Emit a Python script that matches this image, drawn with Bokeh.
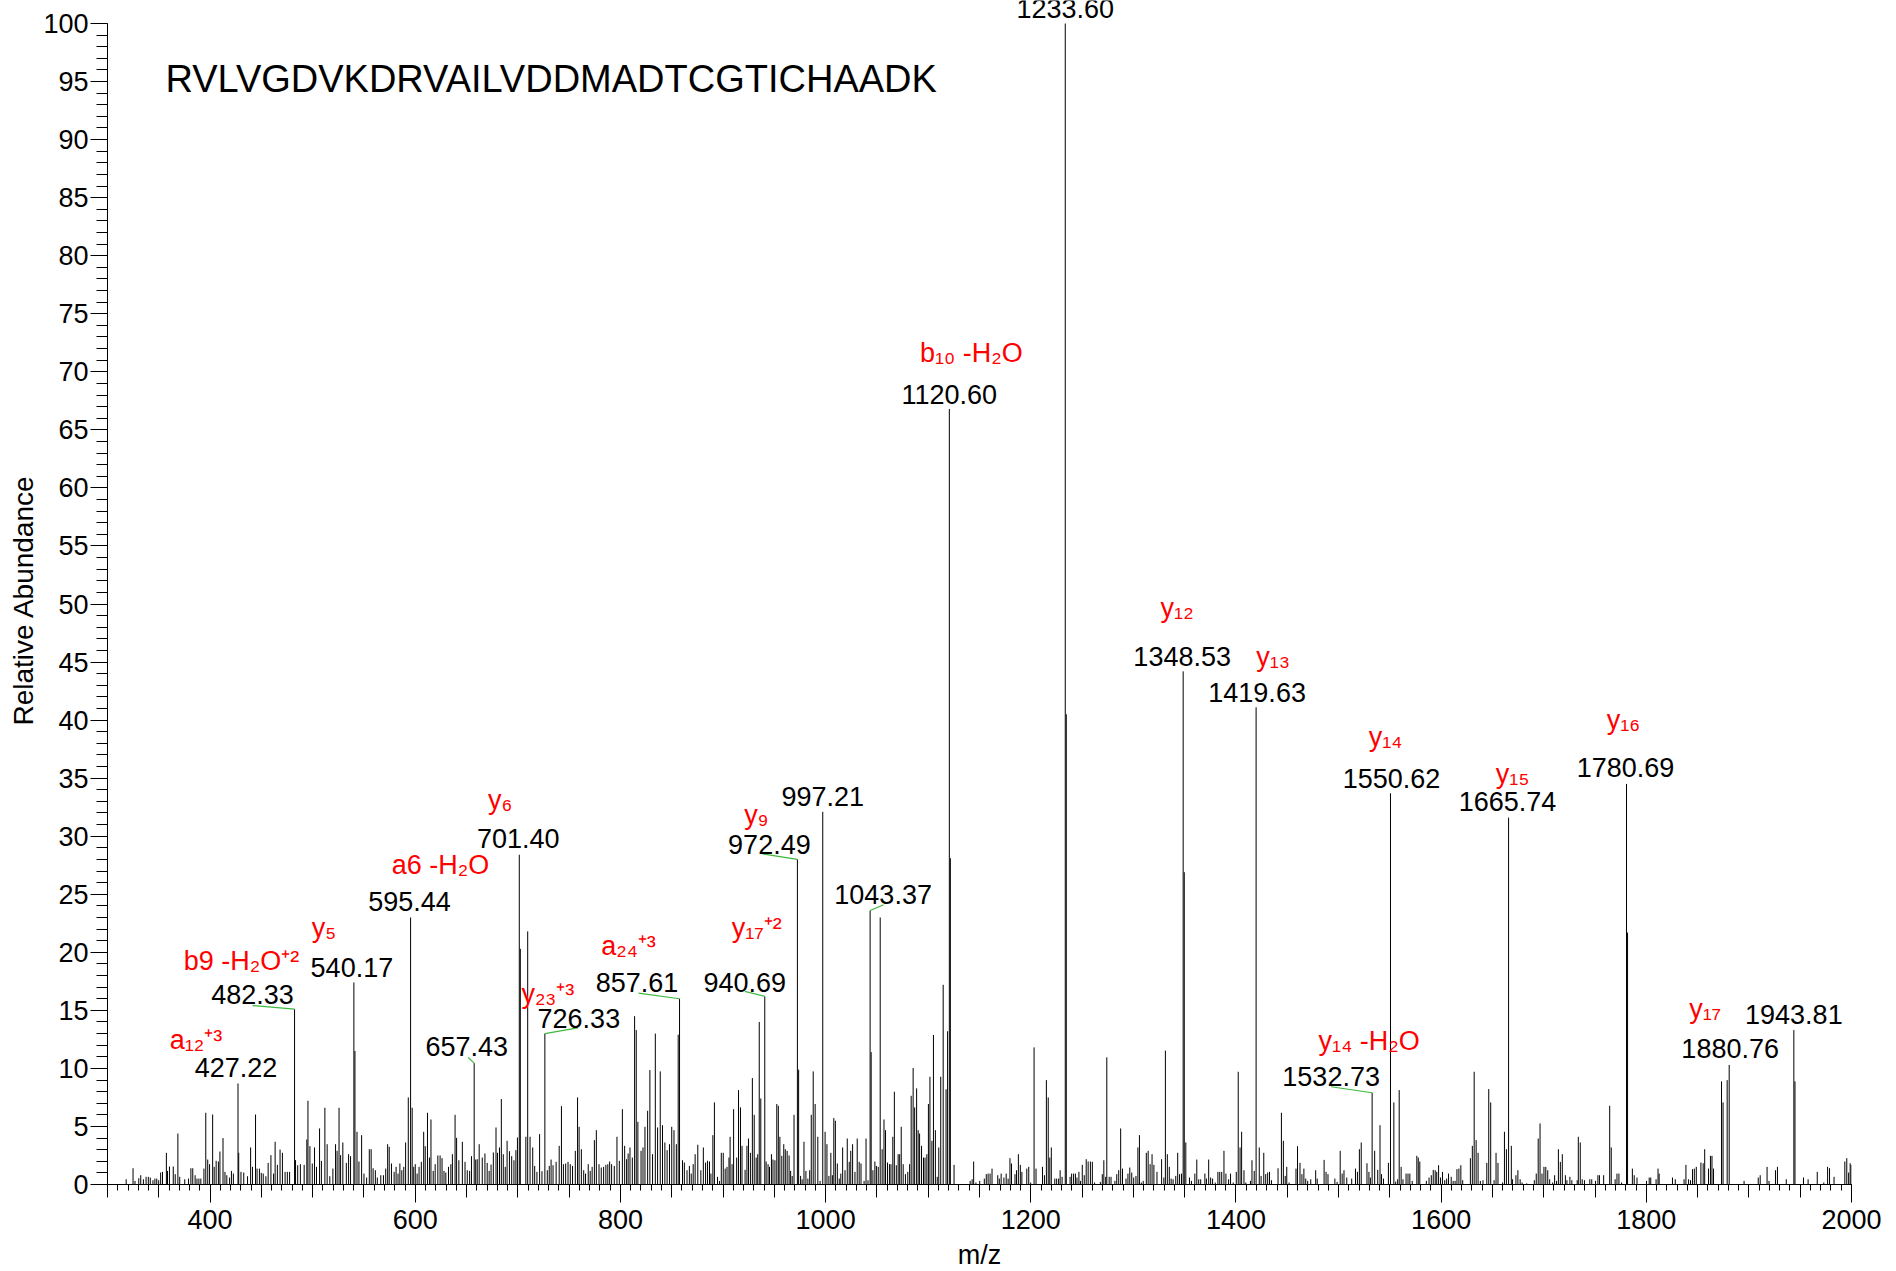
from bokeh.plotting import figure
from bokeh.models import (ColumnDataSource, LinearAxis, FixedTicker,
                          SingleIntervalTicker, Range1d, Label, Title)
from bokeh.core.properties import value
from bokeh.embed import file_html
from bokeh.resources import INLINE

# ---------------- data ----------------
sequence = "RVLVGDVKDRVAILVDDMADTCGTICHAADK"

mz_a = [318.2, 324.9, 326.8, 330.5, 332.4, 335.0, 337.6, 339.8, 341.7, 344.3,
        346.2, 348.0, 349.9, 351.8, 353.6, 357.4, 358.5, 360.4, 364.1, 366.0,
        368.6, 370.4, 375.3, 379.0, 381.3, 383.1, 385.4, 387.2, 389.1, 391.0,
        394.0, 395.8, 397.7, 399.5, 402.5, 404.0, 405.9, 408.1, 409.6, 412.6,
        414.5, 416.3, 419.0, 420.8, 422.7, 427.9, 430.1, 432.8, 436.5, 439.5,
        441.3, 444.3, 445.8, 448.1, 449.9, 451.8, 454.4, 456.6, 459.3, 461.9,
        463.4, 465.6, 468.2, 470.5, 473.1, 475.3, 477.5, 483.3, 485.4, 488.0,
        491.7, 494.3, 495.4, 497.3, 499.6, 501.8, 503.7, 506.7, 508.5, 511.9,
        514.1, 516.7, 519.7, 522.3, 523.8, 525.7, 527.2, 529.4, 532.8, 535.0,
        536.9, 541.2, 543.2, 545.1, 547.7, 550.0, 552.6, 555.2, 557.0, 558.9,
        561.1, 563.0, 566.4, 569.0, 571.2, 573.1, 574.6, 576.8, 579.4, 581.3,
        583.2, 585.0, 586.9, 588.8, 590.6, 593.2, 597.0, 598.5]
int_a = [0.45, 1.4, 0.31, 0.54, 0.8, 0.45, 0.66, 0.66, 0.6, 0.37,
         0.51, 0.51, 0.37, 1.03, 1.09, 2.73, 1.17, 1.55, 1.55, 0.89,
         4.39, 0.66, 0.45, 0.51, 1.4, 1.4, 0.8, 0.51, 0.51, 0.51,
         1.37, 6.18, 2.15, 1.75, 6.03, 1.52, 2.04, 1.98, 2.84, 4.0,
         1.09, 0.8, 0.6, 1.17, 0.94, 2.73, 1.09, 1.03, 0.71, 3.19,
         1.52, 6.03, 1.37, 1.37, 1.0, 0.94, 0.71, 1.86, 2.53, 0.94,
         3.68, 1.69, 3.01, 2.73, 1.09, 1.09, 1.09, 2.1, 1.66, 1.75,
         1.69, 3.88, 7.21, 3.3, 1.81, 3.19, 1.52, 4.83, 2.04, 6.61,
         3.47, 0.71, 1.37, 3.47, 2.9, 6.61, 2.53, 3.62, 1.86, 2.61,
         2.44, 11.5, 4.54, 1.98, 4.25, 0.94, 0.6, 3.04, 3.04, 1.4,
         1.23, 0.6, 0.8, 0.8, 1.37, 3.47, 3.24, 1.81, 1.09, 1.52,
         0.94, 1.81, 1.23, 1.52, 3.62, 7.5, 6.61, 1.52]

mz_b = [600.0, 601.8, 603.7, 605.9, 608.2, 609.7, 611.9, 613.8, 615.3, 617.5,
        619.4, 622.0, 624.2, 626.1, 628.0, 629.8, 632.4, 634.7, 636.2, 638.8,
        640.3, 642.5, 645.9, 648.5, 650.7, 653.0, 654.8, 658.9, 660.4, 662.3,
        665.3, 667.9, 670.1, 672.0, 673.9, 676.1, 678.7, 680.2, 682.1, 683.9,
        685.8, 687.7, 689.5, 691.8, 694.0, 696.2, 698.1, 699.6, 702.4, 707.8,
        709.6, 711.9, 714.5, 716.4, 718.6, 721.2, 723.5, 728.7, 730.6, 732.4,
        734.3, 737.3, 740.3, 742.5, 744.4, 746.6, 748.9, 751.1, 753.3, 756.0,
        758.2, 759.7, 761.9, 764.2, 766.0, 768.6, 770.5, 772.4, 774.6, 776.5,
        779.1, 781.3, 783.6, 785.8, 787.7, 789.5, 791.4, 794.0, 796.6, 798.9,
        801.9, 804.1, 806.0, 807.5, 809.3, 811.6, 813.8, 815.4, 817.0, 820.1,
        822.0, 823.9, 826.5, 828.7, 831.3, 834.0, 836.2, 838.8, 841.0, 843.3,
        845.5, 847.8, 850.0, 852.2, 854.5, 856.3, 860.5, 862.3, 864.9, 867.2,
        869.0, 870.9, 872.8, 875.4, 878.4, 880.8]
int_b = [1.75, 0.94, 1.52, 1.95, 4.54, 3.3, 6.18, 2.32, 5.6, 1.17,
         1.75, 2.5, 2.5, 2.27, 1.17, 1.03, 1.52, 1.75, 2.61, 6.0,
         4.02, 2.09, 3.68, 1.95, 1.23, 1.17, 2.44, 2.15, 2.18, 3.47,
         2.32, 2.67, 1.86, 1.17, 1.72, 2.76, 4.91, 2.73, 3.19, 7.36,
         2.61, 1.52, 3.76, 2.87, 2.44, 2.09, 2.96, 4.05, 20.3, 4.11,
         21.8, 4.11, 3.19, 1.6, 1.09, 4.34, 1.14, 1.23, 1.6, 2.15,
         1.66, 1.95, 3.33, 6.75, 1.75, 1.81, 1.95, 1.75, 1.6, 2.9,
         7.5, 4.97, 3.04, 1.23, 0.94, 1.75, 1.17, 1.52, 3.82, 4.68,
         1.75, 1.46, 1.52, 1.69, 1.75, 1.98, 1.75, 1.6, 4.11, 2.04,
         6.49, 3.33, 2.18, 2.67, 3.19, 2.32, 14.5, 13.3, 5.4, 2.9,
         3.19, 4.97, 6.35, 9.86, 2.61, 13.0, 4.91, 9.74, 5.11, 3.62,
         2.96, 3.47, 4.97, 4.68, 3.47, 12.9, 2.09, 1.89, 1.23, 1.6,
         0.94, 1.75, 2.61, 3.42, 1.23, 3.19]

mz_c = [883.0, 884.9, 886.8, 888.2, 890.1, 891.6, 894.6, 896.5, 898.3, 900.2,
        902.1, 903.9, 905.8, 906.9, 908.8, 910.3, 913.3, 915.1, 917.0, 918.5,
        921.5, 923.3, 924.8, 926.7, 928.6, 930.4, 932.3, 933.8, 935.3, 936.8,
        942.0, 943.9, 945.3, 947.2, 948.7, 950.6, 952.4, 953.9, 955.4, 957.3,
        959.2, 960.7, 962.5, 964.4, 965.9, 967.4, 969.2, 973.7, 975.6, 977.1,
        978.9, 980.8, 982.7, 984.5, 986.0, 987.9, 989.8, 992.4, 994.6, 999.5,
        1001.3, 1003.2, 1005.1, 1006.6, 1008.0, 1009.5, 1011.4, 1013.3, 1014.8, 1016.6,
        1018.9, 1021.1, 1023.0, 1024.5, 1026.3, 1028.6, 1030.8, 1032.7, 1034.5, 1037.5,
        1039.4, 1041.3, 1044.4, 1046.1, 1048.0, 1049.5, 1051.3, 1053.2, 1055.1, 1056.9,
        1058.4, 1060.3, 1062.2, 1063.7, 1065.5, 1067.0, 1068.9, 1070.7, 1072.2, 1073.7,
        1075.6, 1077.8, 1080.1, 1081.9, 1083.4, 1085.3, 1086.8, 1088.7, 1090.2, 1091.6,
        1093.5, 1095.4, 1096.9, 1098.7, 1100.2, 1101.7, 1103.6, 1105.1, 1107.0, 1108.8,
        1110.3, 1112.2, 1114.6, 1117.4, 1118.9, 1121.6, 1125.2]
int_c = [1.89, 2.04, 1.98, 0.94, 4.25, 7.07, 0.66, 0.31, 2.73, 2.73,
         1.37, 1.52, 2.32, 4.11, 1.75, 6.49, 2.32, 8.13, 6.64, 3.33,
         1.26, 3.33, 3.96, 2.73, 9.17, 6.0, 2.32, 2.61, 14.0, 7.41,
         1.98, 1.75, 1.52, 2.61, 2.15, 2.09, 6.93, 6.78, 4.11, 2.47,
         3.47, 3.04, 2.9, 2.5, 1.17, 0.74, 6.0, 9.89, 0.74, 0.45,
         3.68, 1.17, 0.51, 1.23, 6.0, 9.74, 6.93, 4.11, 0.31, 4.54,
         3.47, 0.74, 2.73, 0.8, 5.72, 5.49, 1.81, 0.51, 0.94, 3.19,
         1.23, 3.96, 1.95, 2.9, 3.47, 1.09, 3.96, 1.95, 1.81, 0.31,
         3.96, 0.37, 11.4, 1.23, 1.98, 1.6, 1.52, 23.0, 3.04, 5.6,
         4.68, 1.89, 1.75, 1.75, 4.11, 7.99, 1.66, 2.61, 2.61, 4.97,
         1.75, 0.89, 1.09, 1.75, 7.64, 10.03, 6.64, 8.28, 4.68, 4.39,
         3.33, 2.32, 2.32, 2.61, 6.93, 9.28, 3.76, 12.88, 4.68, 0.66,
         3.19, 9.28, 17.2, 8.2, 13.2, 28.1, 1.69]

mz_d = [1140.9, 1142.8, 1144.3, 1146.5, 1150.2, 1154.7, 1156.6, 1158.4, 1160.3, 1162.2,
        1167.8, 1169.3, 1171.1, 1173.8, 1176.0, 1177.9, 1179.7, 1181.2, 1184.6, 1186.1,
        1187.9, 1189.8, 1191.3, 1196.1, 1198.0, 1199.9, 1203.2, 1205.1, 1211.4, 1213.3,
        1215.2, 1217.0, 1218.5, 1220.0, 1223.4, 1225.2, 1227.1, 1228.6, 1230.5, 1234.6,
        1238.3, 1239.8, 1241.7, 1243.5, 1245.0, 1246.9, 1248.4, 1250.2, 1252.1, 1254.0,
        1255.9, 1258.1, 1260.0, 1262.2, 1267.8, 1269.7, 1271.2, 1273.0, 1274.1, 1276.4,
        1278.2, 1282.0, 1283.8, 1285.7, 1287.6, 1289.4, 1292.8, 1294.7, 1296.5, 1298.4,
        1300.3, 1302.5, 1304.4, 1305.9, 1307.7, 1309.6, 1312.6, 1314.4, 1316.3, 1318.2,
        1320.0, 1323.0, 1327.5, 1329.7, 1331.2, 1333.1, 1335.0, 1336.8, 1338.7, 1341.3,
        1343.2, 1345.0, 1346.9, 1349.6, 1351.1, 1354.7, 1356.6, 1359.9, 1361.8, 1363.7,
        1365.6, 1369.7, 1371.2, 1373.4, 1375.3, 1377.2, 1379.8, 1382.4, 1384.2, 1386.1,
        1388.3, 1390.2, 1392.8, 1394.7, 1397.3, 1400.3, 1402.2, 1404.0, 1405.5, 1407.8,
        1409.6, 1414.1, 1415.6, 1417.8, 1422.7, 1424.5, 1427.1, 1429.0, 1430.9, 1432.7,
        1434.6, 1441.0, 1444.3, 1446.2, 1448.0, 1449.5, 1451.8, 1458.5, 1460.0]
int_d = [0.31, 0.45, 1.98, 0.17, 0.31, 0.51, 0.89, 0.94, 0.94, 1.37,
         0.8, 0.51, 0.94, 0.6, 0.94, 0.51, 2.27, 1.81, 0.89, 1.23,
         2.61, 1.69, 1.09, 1.37, 1.52, 0.17, 11.81, 1.37, 1.52, 0.8,
         8.99, 7.5, 2.32, 3.19, 0.51, 0.51, 0.51, 1.23, 0.66, 40.5,
         0.66, 0.94, 0.94, 0.94, 0.6, 1.09, 0.31, 1.69, 0.8, 2.18,
         1.98, 1.98, 1.95, 0.17, 0.22, 0.89, 2.09, 0.66, 10.95, 0.66,
         0.66, 0.31, 0.89, 1.23, 4.83, 1.37, 0.51, 0.94, 1.46, 1.03,
         0.6, 0.74, 3.19, 4.25, 0.17, 0.31, 2.73, 2.9, 1.75, 2.61,
         1.69, 1.09, 2.18, 0.6, 11.53, 2.61, 1.52, 0.51, 0.45, 0.74,
         2.73, 0.89, 0.94, 26.9, 3.62, 0.6, 0.31, 0.94, 2.15, 0.45,
         0.45, 0.94, 0.51, 2.15, 0.6, 0.51, 0.17, 1.09, 1.09, 1.09,
         2.9, 0.94, 0.45, 0.94, 0.17, 1.09, 9.71, 3.19, 4.54, 1.23,
         0.17, 0.31, 2.09, 1.17, 3.19, 0.74, 2.73, 0.89, 1.03, 1.09,
         0.37, 1.4, 6.18, 3.76, 0.74, 1.52, 0.17, 1.37, 3.3]

mz_e = [1462.4, 1464.3, 1466.2, 1468.0, 1469.9, 1472.9, 1477.7, 1479.2, 1485.9, 1487.8,
        1489.7, 1496.4, 1498.6, 1501.6, 1503.5, 1505.3, 1508.0, 1512.8, 1516.5, 1518.4,
        1520.3, 1522.1, 1527.7, 1529.6, 1531.0, 1535.2, 1538.2, 1540.4, 1541.9, 1543.8,
        1548.6, 1553.9, 1555.7, 1557.6, 1559.1, 1561.0, 1562.8, 1565.8, 1567.7, 1569.5,
        1571.8, 1576.3, 1577.7, 1579.2, 1585.6, 1588.2, 1590.4, 1592.3, 1594.2, 1595.7,
        1597.5, 1599.4, 1601.3, 1603.5, 1605.4, 1607.2, 1609.8, 1611.7, 1613.6, 1615.4,
        1617.3, 1619.2, 1621.0, 1628.5, 1630.4, 1632.2, 1634.1, 1636.0, 1638.2, 1640.8,
        1644.5, 1646.4, 1648.3, 1651.6, 1653.5, 1655.4, 1659.9, 1661.7, 1663.6, 1668.4,
        1669.6, 1672.9, 1674.8, 1677.0, 1678.9, 1683.4, 1690.8, 1692.7, 1694.6, 1696.4,
        1698.3, 1700.2, 1702.0, 1703.9, 1705.8, 1708.7, 1710.6, 1712.5, 1714.3, 1716.2,
        1718.1, 1721.1, 1722.6, 1725.5, 1727.4, 1732.6, 1733.7, 1735.6, 1737.5, 1739.7,
        1744.9, 1746.8, 1750.5, 1752.8, 1754.3, 1758.4, 1764.3, 1765.8, 1769.6, 1771.4,
        1773.3, 1775.9, 1781.7, 1786.4, 1788.2, 1790.9, 1800.2, 1802.8, 1804.3, 1809.5,
        1811.4, 1812.5, 1825.5, 1828.2, 1836.8, 1838.6, 1841.2, 1843.1, 1845.0, 1846.8,
        1848.7, 1853.2, 1855.4, 1856.9, 1860.6, 1862.5, 1864.0, 1865.5, 1873.3, 1874.8,
        1878.8, 1895.3, 1909.1, 1911.0, 1917.7, 1919.6, 1925.9, 1927.8, 1936.4, 1944.9,
        1953.2, 1957.7, 1966.6, 1973.0, 1976.7, 1978.6, 1983.0, 1993.5, 1995.4, 1997.2,
        1998.7, 1999.6]
int_e = [1.86, 0.89, 1.37, 0.51, 0.31, 0.45, 1.23, 0.51, 2.12, 1.09,
         0.89, 0.51, 0.22, 2.9, 0.94, 1.23, 0.6, 0.51, 1.37, 1.09,
         3.04, 3.62, 1.83, 1.09, 0.6, 2.9, 1.26, 5.11, 0.89, 0.51,
         1.86, 7.07, 0.25, 0.45, 8.13, 1.52, 0.45, 0.94, 0.94, 0.94,
         0.31, 2.47, 2.32, 1.98, 0.31, 0.6, 0.8, 1.26, 1.23, 1.09,
         1.66, 0.6, 1.09, 0.37, 0.51, 0.94, 0.66, 0.31, 0.31, 1.32,
         1.37, 1.66, 0.37, 2.27, 3.33, 9.71, 3.82, 2.73, 0.31, 0.37,
         1.86, 8.22, 7.07, 0.37, 2.73, 1.86, 0.17, 4.54, 3.04, 3.33,
         0.45, 0.8, 1.23, 0.45, 0.17, 0.1, 0.37, 0.94, 3.96, 5.26,
         0.94, 1.52, 1.52, 1.23, 0.45, 0.17, 0.8, 0.31, 3.04, 1.95,
         2.61, 0.8, 0.37, 0.66, 0.37, 0.37, 4.11, 3.62, 0.45, 0.37,
         0.45, 0.45, 0.31, 0.8, 0.8, 0.8, 6.78, 3.19, 0.45, 0.94,
         0.94, 0.17, 21.7, 1.37, 0.8, 0.6, 0.31, 0.6, 0.6, 0.45,
         1.37, 0.94, 0.6, 0.45, 0.45, 1.69, 0.45, 0.37, 1.32, 1.37,
         1.52, 1.89, 1.83, 3.04, 1.37, 2.47, 2.47, 1.37, 8.88, 7.07,
         8.99, 0.31, 0.6, 0.8, 1.52, 0.31, 1.23, 1.52, 0.45, 8.88,
         0.6, 0.45, 1.09, 0.17, 1.52, 1.4, 0.66, 1.98, 2.27, 1.03,
         1.83, 1.69]

# annotated peaks
label_mz = [427.22, 482.33, 540.17, 595.44, 657.43, 701.40, 726.33, 857.61,
            940.69, 972.49, 997.21, 1043.37, 1120.60, 1233.60, 1348.53, 1419.63,
            1532.73, 1550.62, 1665.74, 1780.69, 1880.76, 1943.81]
label_int = [8.7, 15.1, 17.4, 23.0, 10.45, 28.4, 13.0, 16.0,
             16.2, 28.0, 32.1, 23.6, 66.8, 100.0, 44.2, 41.1,
             7.9, 33.7, 31.6, 34.5, 10.3, 13.3]
ion_names = ["a₁₂⁺³", "b9 -H₂O⁺²", "y₅", "a6 -H₂O", "", "y₆", "y₂₃⁺³", "a₂₄⁺³",
             "y₁₇⁺²", "y₉", "", "", "b₁₀ -H₂O", "", "y₁₂", "y₁₃",
             "y₁₄ -H₂O", "y₁₄", "y₁₅", "y₁₆", "y₁₇", ""]

# ---------------- layout of the labels (pixel offsets of text centres, styles) ----------------
num_dx = [-2, -42, -2, -1, -7.5, -1, 34, -42.6, -20, -28, 0, 13, 0, 0, -1, 1, -41, 1, -1, -1, 1, 0]
num_dy = [-16, -15, -15, -16, -17, -16, -15, -16, -14, -15, -15, -16, -14, -15, -15, -15, -16, -15, -16, -16, -16, -16]
ion_dx = [-42, -53, -30, 30, 0, -19, 3, -51, -8, -41, 0, 0, 22, 0, -6, 17, -3, -5, 4, -3, -24, 0]
ion_dy = [-43, -48, -54, -52, 0, -55, -40, -53, -68, -44, 0, 0, -56, 0, -63, -50, -52, -56, -44, -64, -56, 0]
lead_dx = [0, -42, 0, 0, -6, 0, 33, -41, -20, -35, 0, 13.5, 0, 0, 0, 0, -41, 0, 0, 0, 0, 0]
lead_up = [0, 3.6, 0, 0, 5.7, 0, 5.7, 5.7, 5.0, 5.5, 0, 5.7, 0, 0, 0, 0, 6.0, 0, 0, 0, 0, 0]

FONT = "Liberation Sans"
FRAME_W, FRAME_H = 1744, 1184
X0, X1 = 300, 2000
TOP_GAP = 23
Y_TOP = 100.0 * FRAME_H / (FRAME_H - TOP_GAP)
PX_PER_MZ = FRAME_W / (X1 - X0)
PX_PER_PCT = FRAME_H / Y_TOP

p = figure(frame_width=FRAME_W, frame_height=FRAME_H,
           x_range=Range1d(X0, X1), y_range=Range1d(0, Y_TOP),
           x_axis_type=None, y_axis_type=None,
           output_backend="svg", toolbar_location=None,
           min_border_left=107, min_border_right=37, min_border_top=0, min_border_bottom=0)
p.outline_line_color = None
p.background_fill_color = "white"
p.border_fill_color = "white"

# y axis
yax = LinearAxis(ticker=SingleIntervalTicker(interval=5, num_minor_ticks=5), bounds=(0, 100),
                 major_label_text_font=FONT, major_label_text_font_size="27px",
                 major_label_text_color="black", major_label_standoff=2,
                 major_tick_out=17, major_tick_in=0, minor_tick_out=11, minor_tick_in=0,
                 axis_line_color="black", major_tick_line_color="black",
                 minor_tick_line_color="black")
p.add_layout(yax, "left")
p.add_layout(Title(text="Relative Abundance", align="left", offset=459, standoff=4,
                   text_font=FONT, text_font_size="28px", text_font_style="normal",
                   text_color="black"), "left")

# x axis: line + ticks every 10 / 50 (no labels)
xax_ticks = LinearAxis(ticker=FixedTicker(ticks=list(range(300, 2001, 50)),
                                          minor_ticks=list(range(300, 2001, 10))),
                       major_tick_out=13, major_tick_in=0, minor_tick_out=6, minor_tick_in=0,
                       major_label_text_color=None, major_label_standoff=0,
                       axis_line_color="black", major_tick_line_color="black",
                       minor_tick_line_color="black")
p.add_layout(xax_ticks, "below")
# x axis: long labelled ticks every 200
xax_lab = LinearAxis(ticker=FixedTicker(ticks=list(range(400, 2001, 200)), minor_ticks=[]),
                     axis_line_color=None, major_tick_in=13, major_tick_out=5,
                     minor_tick_out=0, minor_tick_in=0, major_tick_line_color="black",
                     major_label_standoff=7, major_label_text_font=FONT,
                     major_label_text_font_size="27px", major_label_text_color="black",
                     axis_label="m/z", axis_label_standoff=8, axis_label_text_font=FONT,
                     axis_label_text_font_size="27px", axis_label_text_font_style="normal",
                     axis_label_text_color="black")
p.add_layout(xax_lab, "below")

# peaks
all_mz = mz_a + mz_b + mz_c + mz_d + mz_e + label_mz
all_int = int_a + int_b + int_c + int_d + int_e + label_int
peaks = ColumnDataSource(dict(x=all_mz, top=all_int))
p.segment(x0="x", y0=0, x1="x", y1="top", source=peaks, line_color="black", line_width=1)

# green leader lines
ld = [i for i in range(len(label_mz)) if lead_dx[i] != 0 or lead_up[i] != 0]
lead_src = ColumnDataSource(dict(
    x0=[label_mz[i] for i in ld], y0=[label_int[i] for i in ld],
    x1=[label_mz[i] + lead_dx[i] / PX_PER_MZ for i in ld],
    y1=[label_int[i] + lead_up[i] / PX_PER_PCT for i in ld]))
p.segment(x0="x0", y0="y0", x1="x1", y1="y1", source=lead_src,
          line_color="#3cb93c", line_width=1.2)

# m/z value labels
num_src = ColumnDataSource(dict(x=label_mz, y=label_int,
                                text=[f"{m:.2f}" for m in label_mz],
                                dx=num_dx, dy=num_dy))
p.text(x="x", y="y", text="text", x_offset="dx", y_offset="dy", source=num_src,
       text_align="center", text_baseline="middle",
       text_font=value(FONT), text_font_size="27px", text_color="black")

# ion annotations
ii = [i for i in range(len(label_mz)) if ion_names[i]]
ion_src = ColumnDataSource(dict(x=[label_mz[i] for i in ii], y=[label_int[i] for i in ii],
                                text=[ion_names[i] for i in ii],
                                dx=[ion_dx[i] for i in ii], dy=[ion_dy[i] for i in ii]))
p.text(x="x", y="y", text="text", x_offset="dx", y_offset="dy", source=ion_src,
       text_align="center", text_baseline="middle",
       text_font=value(FONT), text_font_size="27px", text_color="#ff0000")

# peptide sequence
p.add_layout(Label(x=356.5, y=95.2, text=sequence, text_font=FONT,
                   text_font_size="38px", text_color="black",
                   text_align="left", text_baseline="middle"))

open("out.html", "w").write(file_html(p, INLINE))
